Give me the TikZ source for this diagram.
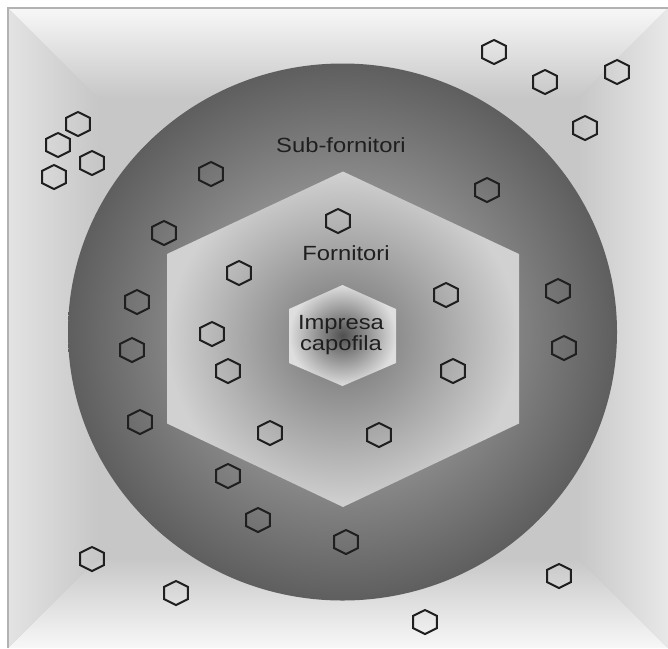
\documentclass[tikz,border=0pt]{standalone}
\usepackage{fontspec}
\setmainfont{Liberation Sans}
\newfontfamily\ringfont[FakeStretch=1.16]{Liberation Sans}
\usetikzlibrary{positioning}

\begin{document}
\begin{tikzpicture}[
        x=1pt, y=-1pt,
        ringlabel/.style={font=\ringfont\fontsize{20.5}{21}\selectfont,
            text=black!88, inner sep=0pt, anchor=base, align=center},
        cell/.style={draw=black!88, line width=2pt}
    ]
    \useasboundingbox (0,0) rectangle (668,648);

    % Background: grey in the middle, fading to white at the edges
    \fill[black!22] (8,8) rectangle (668,648);
    \shade[top color=black!3, bottom color=black!22] (8,8) -- (668,8) -- (578,98) -- (98,98) -- cycle;
    \shade[top color=black!22, bottom color=black!3] (8,648) -- (668,648) -- (578,558) -- (98,558) -- cycle;
    \shade[left color=black!11, right color=black!22] (8,8) -- (98,98) -- (98,558) -- (8,648) -- cycle;
    \shade[left color=black!22, right color=black!9] (668,8) -- (578,98) -- (578,558) -- (668,648) -- cycle;
    \draw[black!30, line width=1.2pt] (8,648) -- (8,8) -- (668,8);

    % Sub-fornitori ring
    \shade[inner color=black!24, outer color=black!63] (342.5,332) ellipse [x radius=274.5pt, y radius=268.5pt];

    % Fornitori hexagon
    \shade[inner color=black!56, outer color=black!18]
        (343,171.5) -- (519,254) -- (519,423.5) -- (343,507) -- (167,423.5) -- (167,254) -- cycle;

    % Impresa capofila hexagon
    \shade[inner color=black!69, outer color=black!13]
        (342.5,285) -- (396,309) -- (396,363) -- (342.5,386) -- (289,363) -- (289,309) -- cycle;

    % Labels
    \node[ringlabel] (subf) at (341,152) {Sub-fornitori};
    \node[ringlabel] (forn) at (346,260) {Fornitori};
    \node[ringlabel] (capo) at (341,350) {Impresa\\capofila};

    % Single firms
    \foreach \cx/\cy in {494/52, 545/82, 617/72, 585/128, 78/124, 58/145, 92/163, 54/177,
                         211/174, 487/190, 338/221, 164/233, 239/273, 137/302, 446/295,
                         558/291, 212/334, 132/350, 564/348, 228/371, 453/371, 140/422,
                         270/433, 379/435, 228/476, 258/520, 346/542, 92/559, 176/593,
                         559/576, 425/622}
        \draw[cell] (\cx,\cy) +(0,-12) -- +(11.8,-6.2) -- +(11.8,6.2) -- +(0,12)
            -- +(-11.8,6.2) -- +(-11.8,-6.2) -- cycle;
\end{tikzpicture}
\end{document}
